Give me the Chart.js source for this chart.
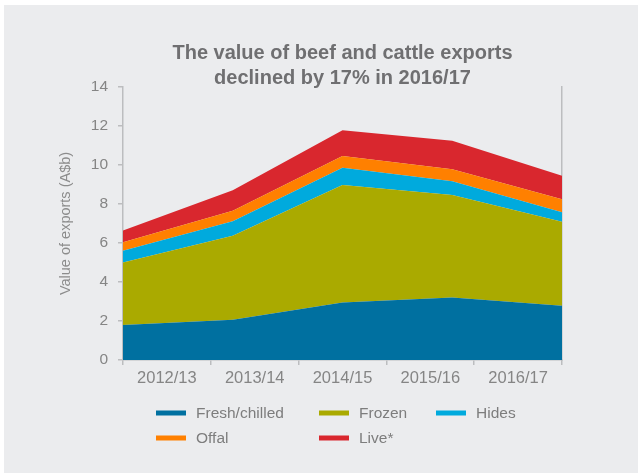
<!DOCTYPE html>
<html>
<head>
<meta charset="utf-8">
<script src="https://cdn.jsdelivr.net/npm/chart.js@4/dist/chart.umd.min.js"></script>
<style>
  html, body { margin: 0; padding: 0; background: #ffffff; }
  #panel { position: absolute; left: 4px; top: 5px; width: 634px; height: 468px; background: #ebecee; }
  #chart { display: block; }
</style>
</head>
<body>
<div id="panel"><canvas id="chart" width="634" height="468"></canvas></div>
<script>
// Export value by product, A$ billion
const categories = ['2012/13', '2013/14', '2014/15', '2015/16', '2016/17'];
const freshChilled = [1.80, 2.07, 2.95, 3.20, 2.78];
const frozen       = [3.20, 4.30, 6.02, 5.26, 4.31];
const hides        = [0.60, 0.75, 0.89, 0.71, 0.49];
const offal        = [0.44, 0.54, 0.60, 0.61, 0.67];
const live         = [0.60, 1.04, 1.32, 1.47, 1.20];
const yTickValues  = [0, 2, 4, 6, 8, 10, 12, 14];

const seriesNames  = ['Fresh/chilled', 'Frozen', 'Hides', 'Offal', 'Live*'];
const seriesColors = ['#0070a0', '#aaaa00', '#00aadd', '#ff8000', '#d9272e'];
const seriesValues = [freshChilled, frozen, hides, offal, live];

const FONT = '"Liberation Sans", Arial, sans-serif';
const AXIS_GRAY = '#bcbdbf';
const TEXT_GRAY = '#858585';

// Legend laid out in three fixed columns under the plot
const gridLegend = {
  id: 'gridLegend',
  afterDraw(chart) {
    const ctx = chart.ctx;
    const area = chart.chartArea;
    const colX = [33, 196, 313];
    const rowY = [53, 78];
    ctx.save();
    ctx.font = '15.5px ' + FONT;
    ctx.textBaseline = 'middle';
    ctx.textAlign = 'left';
    chart.data.datasets.forEach((ds, i) => {
      const x = area.left + colX[i % 3];
      const y = area.bottom + rowY[Math.floor(i / 3)];
      ctx.fillStyle = ds.backgroundColor;
      ctx.fillRect(x, y - 2.5, 30, 5);
      ctx.fillStyle = '#7d7d7d';
      ctx.fillText(ds.label, x + 40, y + 0.5);
    });
    ctx.restore();
  }
};

const datasets = seriesNames.map((name, i) => ({
  label: name,
  data: seriesValues[i],
  backgroundColor: seriesColors[i],
  borderColor: seriesColors[i],
  borderWidth: 0,
  pointRadius: 0,
  pointHoverRadius: 0,
  tension: 0,
  fill: i === 0 ? 'origin' : '-1'
}));

new Chart(document.getElementById('chart'), {
  type: 'line',
  data: { labels: categories, datasets },
  plugins: [gridLegend],
  options: {
    responsive: false,
    animation: false,
    events: [],
    layout: { padding: { left: 0, right: 76, top: 0, bottom: 83 } },
    plugins: {
      legend: { display: false },
      tooltip: { enabled: false },
      title: {
        display: true,
        fullSize: false,
        text: ['The value of beef and cattle exports', 'declined by 17% in 2016/17'],
        color: '#6f6f71',
        font: { family: FONT, size: 20, weight: 'bold', lineHeight: 1.25 },
        padding: { top: 35.5, bottom: -3.5 }
      }
    },
    scales: {
      x: {
        type: 'category',
        display: false,
        offset: false
      },
      x2: {
        type: 'category',
        labels: categories,
        position: 'bottom',
        offset: true,
        grid: { offset: true, drawOnChartArea: false, drawTicks: true, tickLength: 5, color: AXIS_GRAY, lineWidth: 1.5 },
        border: { display: true, color: AXIS_GRAY, width: 1.5 },
        ticks: { color: TEXT_GRAY, font: { family: FONT, size: 16.5 }, padding: 4, maxRotation: 0, autoSkip: false },
        afterFit(s) { s.height = 30; }
      },
      y: {
        type: 'linear',
        stacked: true,
        min: 0,
        max: 14,
        afterBuildTicks(s) { s.ticks = yTickValues.map(v => ({ value: v })); },
        grid: { drawOnChartArea: false, drawTicks: true, tickLength: 5, color: AXIS_GRAY, lineWidth: 1.5 },
        border: { display: true, color: AXIS_GRAY, width: 1.5 },
        ticks: { color: TEXT_GRAY, font: { family: FONT, size: 15.5 }, padding: 10 },
        title: {
          display: true,
          text: 'Value of exports (A$b)',
          color: '#8c8c8c',
          font: { family: FONT, size: 14.5, lineHeight: 1.2 },
          padding: { top: 53.3, bottom: 0 }
        },
        afterFit(s) { s.width = 119; }
      },
      y2: {
        type: 'linear',
        position: 'right',
        min: 0,
        max: 14,
        ticks: { display: false },
        grid: { drawOnChartArea: false, drawTicks: false },
        border: { display: true, color: AXIS_GRAY, width: 1.5 },
        afterFit(s) { s.width = 0; }
      }
    }
  }
});
</script>
</body>
</html>
